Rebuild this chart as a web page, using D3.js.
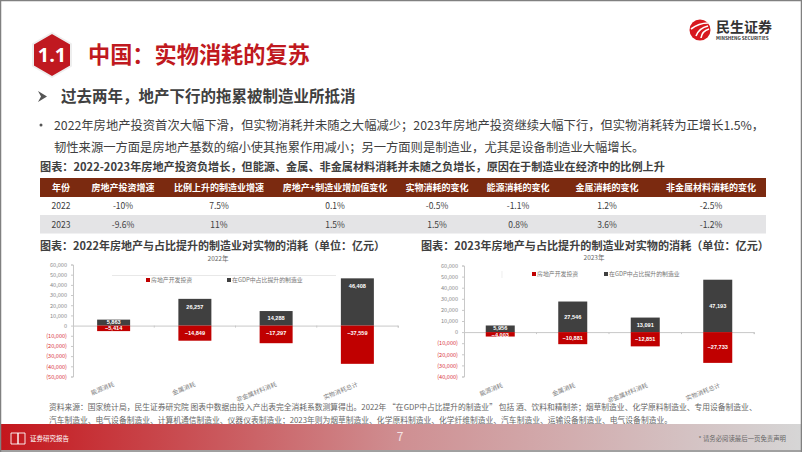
<!DOCTYPE html>
<html>
<head>
<meta charset="utf-8">
<script src="https://cdn.jsdelivr.net/npm/d3@7"></script>
<style>
html, body { margin: 0; padding: 0; background: #fff; overflow: hidden; }
text { font-family: "Noto Sans CJK SC", "Noto Sans", sans-serif; }
text.ml, text.pl { font-family: "Liberation Sans", sans-serif; }
</style>
</head>
<body>
<div id="slide"></div>
<script>
// table data
const tableHeader = ["年份", "房地产投资增速", "比例上升的制造业增速", "房地产+制造业增加值变化", "实物消耗的变化", "能源消耗的变化", "金属消耗的变化", "非金属材料消耗的变化"];
const row2022 = ["2022", "-10%", "7.5%", "0.1%", "-0.5%", "-1.1%", "1.2%", "-2.5%"];
const row2023 = ["2023", "-9.6%", "11%", "1.5%", "1.5%", "0.8%", "3.6%", "-1.2%"];

// chart data
const categories = ["能源消耗", "金属消耗", "非金属材料消耗", "实物消耗总计"];
const property2022 = [-5414, -14849, -17297, -37559];
const manuf2022 = [5863, 26257, 14288, 46408];
const property2023 = [-4003, -10881, -12851, -27733];
const manuf2023 = [5956, 27546, 13091, 47193];
const ticks2022 = [60000, 50000, 40000, 30000, 20000, 10000, 0, -10000, -20000, -30000, -40000, -50000];
const ticks2023 = [60000, 50000, 40000, 30000, 20000, 10000, 0, -10000, -20000, -30000, -40000];

const W = 802, H = 452;
const RED = "#c00000", DARK = "#404040", TITLE_RED = "#c01920";

const svg = d3.select("#slide").append("svg")
    .attr("width", W)
    .attr("height", H)
    .style("display", "block");

const defs = svg.append("defs");
const grad = defs.append("linearGradient").attr("id", "footGrad");
grad.append("stop").attr("offset", "0%").attr("stop-color", "#c4161c");
grad.append("stop").attr("offset", "50%").attr("stop-color", "#cf8f92");
grad.append("stop").attr("offset", "100%").attr("stop-color", "#d6d6d6");

function addText(x, y, str, size, color, weight, anchor) {
    return svg.append("text")
        .attr("x", x)
        .attr("y", y)
        .attr("font-size", size)
        .attr("fill", color)
        .attr("font-weight", weight || 400)
        .attr("text-anchor", anchor || "start")
        .text(str);
}

// header
svg.append("path")
    .attr("d", "M52,33 L71,44 L71,66 L52,77 L33,66 L33,44 Z")
    .attr("fill", TITLE_RED)
    .attr("stroke", "#eeeeee")
    .attr("stroke-width", 2)
    .attr("stroke-linejoin", "round");
addText(52, 62, "1.1", 20, "#fff", 700, "middle").style("font-family", "'Open Sans', sans-serif");
addText(88, 63, "中国：实物消耗的复苏", 22.2, TITLE_RED, 700);

svg.append("path").attr("d", "M38,91 L47,96.5 L38,102 L41,96.5 Z").attr("fill", "#555");
addText(61, 101.5, "过去两年，地产下行的拖累被制造业所抵消", 15.5, "#404040", 700);

// logo
svg.append("circle").attr("cx", 700).attr("cy", 30).attr("r", 10.5).attr("fill", "#d7181f");
svg.append("path")
    .attr("d", "M691,29 Q699,23 708,23 M696,36 Q699,28 708,26 M701,38 Q702,31 709,29")
    .attr("fill", "none").attr("stroke", "#fff").attr("stroke-width", 1.6);
addText(716, 32, "民生证券", 14, "#333", 700);
addText(716, 40, "MINSHENG SECURITIES", 4.6, "#333", 700);

// body text
svg.append("circle").attr("cx", 41).attr("cy", 125).attr("r", 1.5).attr("fill", "#555");
addText(54, 130, "2022年房地产投资首次大幅下滑，但实物消耗并未随之大幅减少；2023年房地产投资继续大幅下行，但实物消耗转为正增长1.5%，", 12.3, "#404040");
addText(54, 152, "韧性来源一方面是房地产基数的缩小使其拖累作用减小；另一方面则是制造业，尤其是设备制造业大幅增长。", 12.3, "#404040");
addText(40, 171, "图表：2022-2023年房地产投资负增长，但能源、金属、非金属材料消耗并未随之负增长，原因在于制造业在经济中的比例上升", 11.15, "#404040", 700);

// table
const colCenter = [61, 123, 219, 335, 437, 518, 607, 711];
const tableX = 40, tableW = 726;
svg.append("rect").attr("x", tableX).attr("y", 178).attr("width", tableW).attr("height", 19).attr("fill", "#7b2a10");
svg.append("rect").attr("x", tableX).attr("y", 215).attr("width", tableW).attr("height", 18.5).attr("fill", "#e4e4e6");
svg.selectAll("text.th").data(tableHeader).join("text")
    .attr("class", "th")
    .attr("x", (d, i) => colCenter[i])
    .attr("y", 190.5)
    .attr("text-anchor", "middle")
    .attr("font-size", 9)
    .attr("font-weight", 700)
    .attr("fill", "#fff")
    .text(d => d);
[[row2022, 209], [row2023, 228]].forEach(function (r) {
    svg.append("g").selectAll("text").data(r[0]).join("text")
        .attr("x", (d, i) => colCenter[i])
        .attr("y", r[1])
        .attr("text-anchor", "middle")
        .attr("font-size", 8.5)
        .attr("fill", "#404040")
        .text(d => d);
});

addText(40, 250, "图表：2022年房地产与占比提升的制造业对实物的消耗（单位：亿元）", 11, "#404040", 700);
addText(421, 250, "图表：2023年房地产与占比提升的制造业对实物的消耗（单位：亿元）", 11.1, "#404040", 700);

// one mirrored bar chart
function drawChart(opt) {
    const y = d3.scaleLinear().domain([opt.ticks[opt.ticks.length - 1], opt.ticks[0]]).range([opt.bottom, opt.top]);
    const x = d3.scaleBand().domain(categories).range([opt.left, opt.right]);
    const g = svg.append("g");

    const fmt = d3.format(",");
    const yAxis = d3.axisLeft(y).tickValues(opt.ticks).tickSize(2).tickPadding(4)
        .tickFormat(d => d < 0 ? "(" + fmt(-d) + ")" : fmt(d));
    const ya = g.append("g").attr("transform", `translate(${opt.left},0)`).call(yAxis);
    ya.selectAll("path,line").attr("stroke", "#c8c8c8");
    ya.selectAll("text")
        .attr("font-size", 5.6)
        .attr("fill", d => d < 0 ? "#d9363c" : "#8a8a8a");

    const xAxis = d3.axisBottom(x).tickSize(2).tickFormat("");
    const xa = g.append("g").attr("transform", `translate(0,${y(0)})`).call(xAxis);
    xa.selectAll("path,line").attr("stroke", "#c8c8c8");
    xa.selectAll(".tick").remove();
    xa.selectAll("line.edge").data(d3.range(1, 5)).join("line")
        .attr("class", "edge")
        .attr("x1", i => opt.left + i * x.step())
        .attr("x2", i => opt.left + i * x.step())
        .attr("y1", 0).attr("y2", 2)
        .attr("stroke", "#c8c8c8");

    const bw = opt.barWidth;
    const barX = d => x(d) + x.bandwidth() / 2 - bw / 2;
    g.selectAll("rect.m").data(categories).join("rect")
        .attr("class", "m")
        .attr("x", barX)
        .attr("width", bw)
        .attr("y", (d, i) => y(opt.manuf[i]))
        .attr("height", (d, i) => y(0) - y(opt.manuf[i]))
        .attr("fill", DARK);
    g.selectAll("rect.p").data(categories).join("rect")
        .attr("class", "p")
        .attr("x", barX)
        .attr("width", bw)
        .attr("y", y(0))
        .attr("height", (d, i) => y(opt.property[i]) - y(0))
        .attr("fill", RED);

    // labels sit at a share of the bar, the small first bar is squeezed next to the axis
    g.selectAll("text.ml").data(categories).join("text")
        .attr("class", "ml")
        .attr("x", d => x(d) + x.bandwidth() / 2)
        .attr("y", (d, i) => i === 0 ? y(0) - 1.8 : y(opt.manuf[i] * opt.manufShare[i]) + 2)
        .attr("text-anchor", "middle")
        .attr("font-size", 5.6).attr("font-weight", 700).attr("fill", "#fff")
        .text((d, i) => fmt(opt.manuf[i]));
    g.selectAll("text.pl").data(categories).join("text")
        .attr("class", "pl")
        .attr("x", d => x(d) + x.bandwidth() / 2)
        .attr("y", (d, i) => i === 0 ? y(0) + 4.9 : (opt.redFixed ? y(0) + opt.redFixed : y(opt.property[i] / 2) + 2))
        .attr("text-anchor", "middle")
        .attr("font-size", 5.6).attr("font-weight", 700).attr("fill", "#fff")
        .text((d, i) => fmt(opt.property[i]));

    g.selectAll("text.cat").data(categories).join("text")
        .attr("class", "cat")
        .attr("transform", d => `translate(${x(d) + x.bandwidth() / 2 + opt.catDx},${opt.catY}) rotate(-22)`)
        .attr("text-anchor", "end")
        .attr("font-size", 6.1)
        .attr("fill", "#808080")
        .text(d => d);

    g.append("text")
        .attr("x", opt.titleX).attr("y", opt.titleY)
        .attr("text-anchor", "middle")
        .attr("font-size", 6.5).attr("fill", "#666")
        .text(opt.title);

    // legend
    const leg = g.append("g");
    leg.append("rect").attr("x", opt.leg1).attr("y", opt.legY - 4).attr("width", 4).attr("height", 4).attr("fill", RED);
    leg.append("text").attr("x", opt.leg1 + 5).attr("y", opt.legY).attr("font-size", 5.9).attr("fill", "#777").text("房地产开发投资");
    leg.append("rect").attr("x", opt.leg2).attr("y", opt.legY - 4).attr("width", 4).attr("height", 4).attr("fill", DARK);
    leg.append("text").attr("x", opt.leg2 + 5).attr("y", opt.legY).attr("font-size", 5.9).attr("fill", "#777").text(opt.legText);
}

drawChart({
    left: 73, right: 398, top: 264.5, bottom: 376.5, barWidth: 33,
    ticks: ticks2022, manuf: manuf2022, property: property2022,
    manufShare: [0.5, 0.71, 0.5, 0.83], redFixed: 9.5,
    title: "2022年", titleX: 218, titleY: 261, catDx: 1, catY: 386,
    leg1: 146, leg2: 227, legY: 282, legText: "在GDP中占比提升的制造业"
});
svg.append("line").attr("x1", 112).attr("x2", 336).attr("y1", 275.5).attr("y2", 275.5).attr("stroke", "#d8d8d8").attr("stroke-width", 0.6);

drawChart({
    left: 464, right: 754, top: 265.5, bottom: 376.5, barWidth: 29,
    ticks: ticks2023, manuf: manuf2023, property: property2023,
    manufShare: [0.5, 0.5, 0.5, 0.5],
    title: "2023年", titleX: 594, titleY: 259.5, catDx: 3, catY: 387,
    leg1: 532, leg2: 604, legY: 276, legText: "在GDP中占比提升的制造业"
});
svg.append("line").attr("x1", 502).attr("x2", 502).attr("y1", 271).attr("y2", 278).attr("stroke", "#e2e2e2").attr("stroke-width", 0.6);

// source note
addText(49, 409.5, "资料来源：国家统计局，民生证券研究院  图表中数据由投入产出表完全消耗系数测算得出。2022年 “在GDP中占比提升的制造业” 包括 酒、饮料和精制茶；烟草制造业、化学原料制造业、专用设备制造业、", 7.78, "#666");
addText(49, 422.8, "汽车制造业、电气设备制造业、计算机通信制造业、仪器仪表制造业；2023年则为烟草制造业、化学原料制造业、化学纤维制造业、汽车制造业、运输设备制造业、电气设备制造业。", 7.78, "#666");

// footer
svg.append("rect").attr("x", 0).attr("y", 424).attr("width", W).attr("height", 26).attr("fill", "url(#footGrad)");
svg.append("path")
    .attr("d", "M11,433 H18 V444 H11 Z M18,433 H25 V444 H18 Z")
    .attr("fill", "none").attr("stroke", "#fff").attr("stroke-width", 0.9);
addText(30, 441, "证券研究报告", 6.5, "#fff");
addText(400, 441, "7", 12, "#f4e4e4", 400, "middle");
addText(786, 441, "* 请务必阅读最后一页免责声明", 6.4, "#666", 400, "end");

// slide border
svg.append("path")
    .attr("d", `M0.5,${H} V0.5 H${W - 0.5} V${H}`)
    .attr("fill", "none").attr("stroke", "#808080").attr("stroke-width", 1.5);
svg.append("line").attr("x1", 0).attr("x2", W).attr("y1", 451).attr("y2", 451).attr("stroke", "#808080").attr("stroke-width", 1.5);
</script>
</body>
</html>
